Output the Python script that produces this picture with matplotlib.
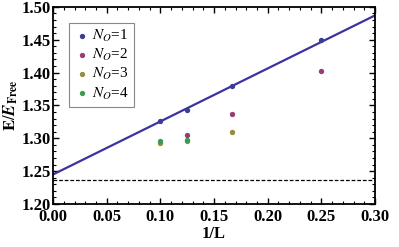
import matplotlib
matplotlib.use("Agg")
import matplotlib.pyplot as plt
import numpy as np
from matplotlib.ticker import MultipleLocator

plt.rcParams['font.family'] = ['Liberation Serif', 'DejaVu Serif']
plt.rcParams['mathtext.fontset'] = 'stix'

# Data
x1 = [0.1, 0.125, 1/6, 0.25]
y1 = [1.327, 1.343, 1.380, 1.449]
x2 = [0.125, 1/6, 0.25]
y2 = [1.305, 1.337, 1.403]
x3 = [0.1, 0.125, 1/6]
y3 = [1.293, 1.296, 1.309]
x4 = [0.1, 0.125]
y4 = [1.296, 1.297]
fit_intercept = 1.245
fit_slope = 0.807
ref_level = 1.237

c1 = '#3d3d99'
c2 = '#993d71'
c3 = '#998c3d'
c4 = '#3d9954'
line_c = '#3a33a0'

fig = plt.figure(figsize=(3.99, 2.47), dpi=100)
ax = fig.add_axes([0.133, 0.174, 0.807, 0.798])

xs = np.array([0.0, 0.3])
ax.plot(xs, fit_intercept + fit_slope * xs, color=line_c, lw=1.6, zorder=2)
ax.axhline(ref_level, color='black', lw=0.9, ls=(0, (3, 1.5)), zorder=1)

ms = 8
ax.scatter(x1, y1, s=ms, color=c1, label=r'$N_O$=1', zorder=3)
ax.scatter(x2, y2, s=ms, color=c2, label=r'$N_O$=2', zorder=3)
ax.scatter(x3, y3, s=ms, color=c3, label=r'$N_O$=3', zorder=3)
ax.scatter(x4, y4, s=ms, color=c4, label=r'$N_O$=4', zorder=4)

ax.set_xlim(0, 0.3)
ax.set_ylim(1.2, 1.5)
ax.xaxis.set_major_locator(MultipleLocator(0.05))
ax.xaxis.set_minor_locator(MultipleLocator(0.01))
ax.yaxis.set_major_locator(MultipleLocator(0.05))
ax.yaxis.set_minor_locator(MultipleLocator(0.01))
ax.xaxis.set_major_formatter(plt.FormatStrFormatter('%.2f'))
ax.yaxis.set_major_formatter(plt.FormatStrFormatter('%.2f'))
ax.tick_params(which='both', direction='in', top=True, right=True)
ax.tick_params(which='major', length=4, width=1)
ax.tick_params(which='minor', length=2, width=0.8)
ax.tick_params(axis='x', labelsize=12, pad=3.5)
ax.tick_params(axis='y', labelsize=12, pad=1.5)
for lab in ax.get_xticklabels() + ax.get_yticklabels():
    lab.set_fontweight('bold')
for s in ax.spines.values():
    s.set_linewidth(1.3)

ax.set_xlabel('1/L', fontsize=12, fontweight='bold', labelpad=1)
ax.set_ylabel(r'$\mathbf{E}/\boldsymbol{E}_{\mathbf{Free}}$', fontsize=12, labelpad=1)

leg = ax.legend(loc='upper left', bbox_to_anchor=(0.05, 0.92), fontsize=11,
                fancybox=False, edgecolor='#888888', framealpha=1,
                handletextpad=0.15, borderpad=0.35, labelspacing=0.2,
                handlelength=1.0, borderaxespad=0, markerscale=1.0)
leg.get_frame().set_linewidth(0.8)

fig.savefig('out.png', dpi=100)
